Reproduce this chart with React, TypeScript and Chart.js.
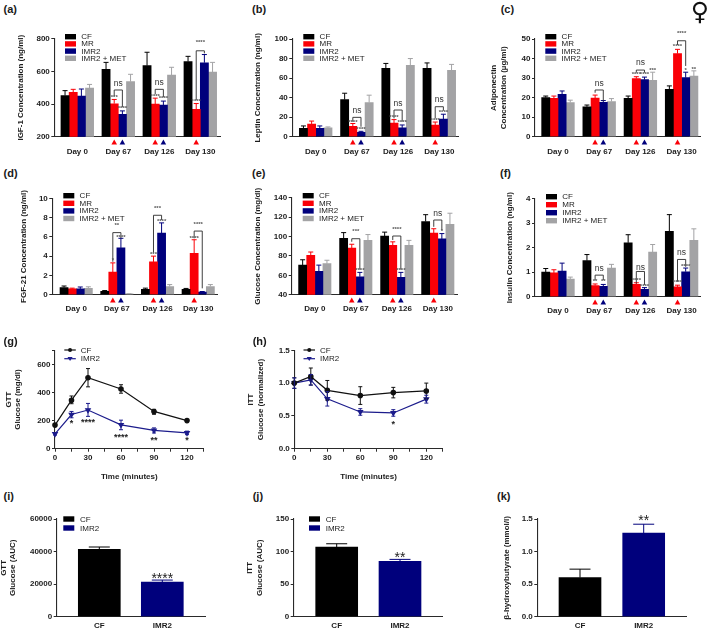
import React, { useEffect, useRef } from "react";
import { Chart, registerables } from "chart.js";

Chart.register(...registerables);

const FONT = "'Liberation Sans', Arial, sans-serif";
const INK = "#1c1c1c";
const BLACK = "#000000";
const RED = "#fa0007";
const NAVY = "#00007c";
const GREY = "#a3a3a5";
const LINE_NAVY = "#1c1c8c";

const dayLabels = ["Day 0", "Day 67", "Day 126", "Day 130"];
const seriesNames = ["CF", "MR", "IMR2", "IMR2 + MET"];
const seriesColors = [BLACK, RED, NAVY, GREY];
const pairNames = ["CF", "IMR2"];
const pairColors = [BLACK, NAVY];
const timePoints = [0, 15, 30, 60, 90, 120];

// Each row: CF, MR, IMR2, IMR2 + MET across the four days
const igfValues = [[452, 613, 635, 660], [472, 402, 400, 367], [448, 337, 393, 653], [497, 537, 577, 595]];
const igfTops = [[482, 655, 717, 692], [490, 428, 436, 403], [492, 358, 418, 703], [520, 582, 625, 655]];
const leptinValues = [[8.5, 38, 70, 70], [13, 10.5, 14, 12], [8.5, 4.5, 9, 18], [9, 35, 73, 68]];
const leptinTops = [[11, 44.5, 75, 75.5], [16, 13.5, 17.5, 15], [11, 5.5, 12, 23], [10, 42.5, 80, 74]];
const adipoValues = [[20, 15.3, 19.7, 24.2], [19.7, 19.8, 29.7, 42.5], [21.7, 17.6, 29.2, 30.2], [17.5, 18, 28.8, 31]];
const adipoTops = [[20.8, 16.2, 20.8, 26], [20.8, 21.3, 30.7, 44.7], [23.4, 18.5, 30.5, 33], [18.7, 19.5, 33, 33.7]];
const fgfValues = [[0.75, 0.35, 0.55, 0.55], [0.6, 2.35, 3.4, 4.3], [0.6, 4.85, 6.4, 0.27], [0.65, 0.08, 0.85, 0.85]];
const fgfTops = [[0.9, 0.43, 0.68, 0.65], [0.68, 3.3, 4, 5.7], [0.8, 5.85, 7.45, 0.33], [0.82, 0.1, 1.05, 1.05]];
const glucoseValues = [[70.5, 98, 100.5, 115.5], [80.5, 88, 91, 103.5], [64, 58.5, 58, 97.5], [72, 96, 91, 112.5]];
const glucoseTops = [[76, 104, 104.5, 122.5], [84, 92, 94.5, 108], [70.5, 63, 63, 103], [75.5, 102, 96, 124]];
const insulinValues = [[1, 1.47, 2.2, 2.67], [0.97, 0.45, 0.5, 0.4], [1.05, 0.42, 0.3, 1.02], [0.72, 1.17, 1.82, 2.3]];
const insulinTops = [[1.15, 1.72, 2.53, 3.35], [1.1, 0.52, 0.57, 0.47], [1.37, 0.5, 0.37, 1.17], [0.8, 1.32, 2.13, 2.77]];

// Comparison brackets: day, from series, to series, top, left foot, right foot, label, label height
const igfBrackets = [[1, 1, 2, 486, 448, 380, "ns", 526], [2, 1, 2, 490, 461, 441, "ns", 530], [3, 1, 2, 726, 424, 710, "****", 775]];
const leptinBrackets = [[1, 1, 2, 19.8, 15.4, 10.2, "ns", 26.3], [2, 1, 2, 27.3, 18.8, 15.4, "ns", 33.8], [3, 1, 2, 30.7, 18.8, 26.6, "ns", 38.2]];
const adipoBrackets = [[1, 1, 2, 23.9, 22.5, 18.3, "ns", 27.3], [2, 1, 2, 34.1, 32.8, 32.8, "ns", 37.9], [3, 1, 2, 49.1, 46.9, 36.2, "****", 52.9]];
const fgfBrackets = [[1, 1, 2, 6.44, 3.42, 5.85, "**", 7.23], [2, 1, 2, 8.24, 4.36, 7.75, "***", 8.96], [3, 1, 2, 6.6, 5.85, 0.66, "****", 7.3]];
const glucoseBrackets = [[1, 1, 2, 97.7, 94.6, 66, "***", 105.3], [2, 1, 2, 100.5, 96.4, 66, "****", 107.4], [3, 1, 2, 117, 110, 106.7, "ns", 123.9]];
const insulinBrackets = [[1, 1, 2, 0.88, 0.68, 0.68, "ns", 1.14], [2, 1, 2, 1.03, 0.54, 0.48, "ns", 1.2], [3, 1, 2, 1.52, 0.61, 1.22, "ns", 1.8]];

// Significance marks: day, series, height, text
const igfStars = [[1, 1, 439, "***"], [1, 2, 371, "****"], [2, 1, 445, "****"], [2, 2, 433, "****"], [3, 1, 418, "****"]];
const leptinStars = [[1, 1, 14.3, "****"], [1, 2, 7.8, "****"], [2, 1, 19.8, "****"], [2, 2, 14.3, "****"], [3, 1, 17, "****"], [3, 2, 24.9, "****"]];
const adipoStars = [[2, 1, 31.7, "****"], [2, 2, 31.7, "****"], [2, 3, 33.8, "***"], [3, 1, 46, "****"], [3, 2, 34.1, "*"], [3, 3, 34.6, "**"]];
const fgfStars = [[1, 1, 3.53, "*"], [1, 2, 5.95, "****"], [2, 1, 4.22, "***"], [2, 2, 7.65, "****"], [3, 1, 5.85, "****"]];
const glucoseStars = [[1, 2, 64.8, "****"], [2, 2, 64.8, "****"], [3, 2, 105.6, "*"]];
const insulinStars = [[1, 1, 0.61, "**"], [1, 2, 0.61, "**"], [2, 1, 0.68, "****"], [2, 2, 0.41, "****"], [3, 1, 0.57, "****"], [3, 2, 1.25, "****"]];

// Triangles below the axis: day, series
const triangleMarks = [[1, 1], [1, 2], [2, 1], [2, 2], [3, 1]];

const gttCF = [168, 345, 505, 425, 265, 200];
const gttCFLow = [158, 320, 440, 395, 245, 192];
const gttCFHigh = [178, 375, 570, 455, 280, 208];
const gttIMR = [105, 243, 275, 170, 130, 112];
const gttIMRLow = [97, 220, 230, 135, 112, 100];
const gttIMRHigh = [113, 265, 322, 203, 148, 125];
const gttStars = [[1, 1, 178, "*"], [2, 1, 183, "****"], [3, 1, 83, "****"], [4, 1, 59, "**"], [5, 1, 55, "*"]];

const ittCF = [1.0, 1.1, 0.89, 0.81, 0.855, 0.88];
const ittCFLow = [0.92, 0.97, 0.74, 0.675, 0.775, 0.76];
const ittCFHigh = [1.08, 1.23, 1.04, 0.945, 0.935, 1.0];
const ittIMR = [1.0, 1.05, 0.76, 0.56, 0.545, 0.755];
const ittIMRLow = [0.92, 0.97, 0.65, 0.51, 0.495, 0.695];
const ittIMRHigh = [1.08, 1.13, 0.87, 0.61, 0.595, 0.815];
const ittStars = [[4, 1, 0.37, "*"]];

const gttAuc = [41300, 21200];
const gttAucTop = [42800, 22500];
const ittAuc = [107, 85];
const ittAucTop = [112, 88];
const bhbValues = [0.6, 1.285];
const bhbTops = [0.73, 1.42];

type Rect = { x: number; y: number; w: number; h: number };
type Plot = { left: number; right: number; top: number; bottom: number };

function marksPlugin(cfg: any) {
  return {
    id: "marks",
    afterDatasetsDraw(chart: any) {
      const ctx = chart.ctx;
      const yS = chart.scales.y;
      const area = chart.chartArea;
      const at = (series: number, idx: number) => chart.getDatasetMeta(series).data[idx];
      ctx.save();

      // error bars
      (cfg.errors || []).forEach((e: any, s: number) => {
        ctx.strokeStyle = e.color;
        ctx.lineWidth = 1;
        e.high.forEach((hi: number, i: number) => {
          const el = at(s, i);
          if (!el) return;
          const x = el.x;
          const top = yS.getPixelForValue(hi);
          const low = e.low ? yS.getPixelForValue(e.low[i]) : el.y;
          const cap = cfg.capWidth / 2;
          ctx.beginPath();
          ctx.moveTo(x, low);
          ctx.lineTo(x, top);
          ctx.moveTo(x - cap, top);
          ctx.lineTo(x + cap, top);
          if (e.low) {
            ctx.moveTo(x - cap, low);
            ctx.lineTo(x + cap, low);
          }
          ctx.stroke();
        });
      });

      // brackets
      ctx.textAlign = "center";
      ctx.textBaseline = "middle";
      (cfg.brackets || []).forEach((b: any) => {
        const [g, a, c, top, fa, fc, label, lv] = b;
        const xa = at(a, g).x;
        const xc = at(c, g).x;
        ctx.strokeStyle = "#2a2a2a";
        ctx.lineWidth = 0.9;
        ctx.beginPath();
        ctx.moveTo(xa, yS.getPixelForValue(fa));
        ctx.lineTo(xa, yS.getPixelForValue(top));
        ctx.lineTo(xc, yS.getPixelForValue(top));
        ctx.lineTo(xc, yS.getPixelForValue(fc));
        ctx.stroke();
        const isNs = label === "ns";
        ctx.font = isNs ? `8.5px ${FONT}` : `bold 6px ${FONT}`;
        ctx.fillStyle = isNs ? "#333" : "#555";
        ctx.fillText(label, (xa + xc) / 2, yS.getPixelForValue(lv));
      });

      // significance stars
      ctx.font = cfg.starFont;
      ctx.fillStyle = cfg.starColor;
      (cfg.stars || []).forEach((st: any) => {
        const [g, s, v, text] = st;
        ctx.fillText(text, at(s, g).x, yS.getPixelForValue(v));
      });

      // triangles below the axis
      (cfg.triangles || []).forEach((t: any) => {
        const [g, s] = t;
        const x = at(s, g).x;
        ctx.fillStyle = seriesColors[s];
        ctx.beginPath();
        ctx.moveTo(x, area.bottom + 2.8);
        ctx.lineTo(x + 2.8, area.bottom + 7.8);
        ctx.lineTo(x - 2.8, area.bottom + 7.8);
        ctx.closePath();
        ctx.fill();
      });

      // legend
      if (cfg.legend) {
        const { x, y, textX, step, kind } = cfg.legend;
        const left = x - chart.canvas.offsetLeft;
        const tx = textX - chart.canvas.offsetLeft;
        ctx.textAlign = "left";
        ctx.textBaseline = "middle";
        ctx.font = `8px ${FONT}`;
        chart.data.datasets.forEach((d: any, i: number) => {
          const ly = y + i * step - chart.canvas.offsetTop;
          if (kind === "line") {
            ctx.strokeStyle = d.borderColor;
            ctx.lineWidth = 1.2;
            ctx.beginPath();
            ctx.moveTo(left, ly);
            ctx.lineTo(left + 11.5, ly);
            ctx.stroke();
            ctx.fillStyle = d.borderColor;
            ctx.beginPath();
            if (i === 0) {
              ctx.arc(left + 5.75, ly, 2, 0, Math.PI * 2);
            } else {
              ctx.moveTo(left + 3.2, ly - 1.8);
              ctx.lineTo(left + 8.3, ly - 1.8);
              ctx.lineTo(left + 5.75, ly + 2.2);
              ctx.closePath();
            }
            ctx.fill();
          } else {
            ctx.fillStyle = d.backgroundColor;
            ctx.fillRect(left, ly - 2.7, 11, 5.4);
          }
          ctx.fillStyle = "#222";
          ctx.fillText(d.label, tx, ly + 0.3);
        });
      }
      ctx.restore();
    },
  };
}

function axisBase(rect: Rect, plot: Plot) {
  return {
    afterFitY: (s: any) => { s.width = plot.left - rect.x; },
    afterFitX: (s: any) => { s.height = rect.y + rect.h - plot.bottom; },
    padding: { left: 0, top: plot.top - rect.y, right: rect.x + rect.w - plot.right, bottom: 0 },
  };
}

const tickFont = { family: FONT, size: 8, weight: "bold" as const };
const border = { display: true, color: "#2a2a2a", width: 1.1 };

function yAxis(rect: Rect, plot: Plot, o: any) {
  const lh = 9.6;
  return {
    type: "linear",
    min: o.min,
    max: o.max,
    afterFit: axisBase(rect, plot).afterFitY,
    border,
    grid: { drawOnChartArea: false, drawTicks: true, tickLength: 3, tickColor: "#2a2a2a", tickWidth: 1 },
    ticks: {
      stepSize: o.step,
      padding: 1.5,
      color: INK,
      font: tickFont,
      callback: (v: number) => (v === o.max && o.hideMax ? "" : o.dec ? v.toFixed(o.dec) : String(v)),
    },
    title: {
      display: true,
      text: o.title,
      color: INK,
      font: { family: FONT, size: 8, weight: "bold" as const, lineHeight: 1.2 },
      padding: { top: o.titleX - rect.x - lh / 2, bottom: 0 },
    },
  };
}

function Panel({ rect, plot, config }: { rect: Rect; plot: Plot; config: any }) {
  const ref = useRef<HTMLCanvasElement>(null);
  useEffect(() => {
    const chart = new Chart(ref.current as HTMLCanvasElement, config);
    return () => chart.destroy();
  }, []);
  return (
    <canvas
      ref={ref}
      width={rect.w}
      height={rect.h}
      style={{ position: "absolute", left: rect.x, top: rect.y, width: rect.w, height: rect.h }}
    />
  );
}

function groupedPanel(p: any) {
  const { rect, plot, values, tops, c0, period, barW } = p;
  const datasets = seriesNames.map((name, s) => ({
    type: "bar",
    label: name,
    data: values[s].map((y: number, x: number) => ({ x, y })),
    backgroundColor: seriesColors[s],
    barThickness: barW,
  }));
  return {
    rect,
    plot,
    config: {
      type: "bar",
      data: { datasets },
      plugins: [
        marksPlugin({
          errors: tops.map((high: number[], s: number) => ({ color: seriesColors[s], high })),
          brackets: p.brackets,
          stars: p.stars,
          starFont: `bold 6px ${FONT}`,
          starColor: "#555",
          capWidth: 5,
          triangles: triangleMarks,
          legend: { x: p.legendX, y: p.legendY, textX: p.legendX + 16.3, step: p.legendStep, kind: "bar" },
        }),
      ],
      options: {
        responsive: false,
        animation: false,
        layout: { autoPadding: false, padding: axisBase(rect, plot).padding },
        plugins: { legend: { display: false }, tooltip: { enabled: false } },
        scales: {
          x: {
            type: "linear",
            offset: false,
            min: (plot.left - c0) / period,
            max: (plot.right - c0) / period,
            afterBuildTicks: (s: any) => { s.ticks = dayLabels.map((_, value) => ({ value })); },
            afterFit: axisBase(rect, plot).afterFitX,
            border,
            grid: { display: false, drawTicks: false, offset: false },
            ticks: {
              stepSize: 1,
              autoSkip: false,
              maxRotation: 0,
              padding: p.labelPad,
              color: INK,
              font: tickFont,
              callback: (v: number) => dayLabels[v] ?? "",
            },
          },
          y: yAxis(rect, plot, p.y),
        },
      },
    },
  };
}

function linePanel(p: any) {
  const { rect, plot } = p;
  const mk = (label: string, vals: number[], color: string, style: string, rotation: number, radius: number) => ({
    type: "line",
    label,
    data: vals.map((y, i) => ({ x: timePoints[i], y })),
    borderColor: color,
    backgroundColor: color,
    borderWidth: 1.2,
    tension: 0,
    clip: false,
    pointStyle: style,
    pointRotation: rotation,
    pointRadius: radius,
  });
  return {
    rect,
    plot,
    config: {
      type: "line",
      data: {
        datasets: [
          mk(pairNames[0], p.cf, "#111111", "circle", 0, 2.2),
          mk(pairNames[1], p.imr, LINE_NAVY, "triangle", 180, 2.6),
        ],
      },
      plugins: [
        marksPlugin({
          errors: [
            { color: "#111111", high: p.cfHigh, low: p.cfLow },
            { color: LINE_NAVY, high: p.imrHigh, low: p.imrLow },
          ],
          stars: p.stars,
          starFont: `bold 9px ${FONT}`,
          starColor: "#222",
          capWidth: 4,
          legend: { x: p.legendX, y: p.legendY, textX: p.legendX + 16.5, step: 8.7, kind: "line" },
        }),
      ],
      options: {
        responsive: false,
        animation: false,
        layout: { autoPadding: false, padding: axisBase(rect, plot).padding },
        plugins: { legend: { display: false }, tooltip: { enabled: false } },
        scales: {
          x: {
            type: "linear",
            min: 0,
            max: 135,
            afterFit: axisBase(rect, plot).afterFitX,
            border,
            grid: { drawOnChartArea: false, drawTicks: true, tickLength: 3, tickColor: "#2a2a2a" },
            ticks: {
              stepSize: 15,
              autoSkip: false,
              maxRotation: 0,
              padding: 1.5,
              color: INK,
              font: tickFont,
              callback: (v: number) => (v % 30 === 0 ? String(v) : ""),
            },
            title: {
              display: true,
              text: "Time (minutes)",
              color: INK,
              font: { family: FONT, size: 8, weight: "bold" as const, lineHeight: 1.2 },
              padding: { top: 0, bottom: rect.y + rect.h - p.xTitleY - 4.8 },
            },
          },
          y: yAxis(rect, plot, p.y),
        },
      },
    },
  };
}

function pairPanel(p: any) {
  const { rect, plot, values, tops, c0, period } = p;
  const datasets = pairNames.map((name, s) => ({
    type: "bar",
    label: name,
    data: [{ x: s, y: values[s] }],
    backgroundColor: pairColors[s],
    grouped: false,
    barThickness: 42,
  }));
  return {
    rect,
    plot,
    config: {
      type: "bar",
      data: { datasets },
      plugins: [
        marksPlugin({
          errors: tops.map((t: number, s: number) => ({ color: pairColors[s], high: [t] })),
          stars: p.stars,
          starFont: `14px ${FONT}`,
          starColor: "#222",
          capWidth: 21,
          legend: p.legendX ? { x: p.legendX, y: p.legendY, textX: p.legendX + 16.7, step: 9, kind: "bar" } : null,
        }),
      ],
      options: {
        responsive: false,
        animation: false,
        layout: { autoPadding: false, padding: axisBase(rect, plot).padding },
        plugins: { legend: { display: false }, tooltip: { enabled: false } },
        scales: {
          x: {
            type: "linear",
            offset: false,
            min: (plot.left - c0) / period,
            max: (plot.right - c0) / period,
            afterBuildTicks: (s: any) => { s.ticks = pairNames.map((_, value) => ({ value })); },
            afterFit: axisBase(rect, plot).afterFitX,
            border,
            grid: { display: false, drawTicks: false, offset: false },
            ticks: {
              stepSize: 1,
              autoSkip: false,
              maxRotation: 0,
              padding: 4.5,
              color: INK,
              font: tickFont,
              callback: (v: number) => pairNames[v] ?? "",
            },
          },
          y: yAxis(rect, plot, p.y),
        },
      },
    },
  };
}

const panels = [
  groupedPanel({
    rect: { x: 0, y: 20, w: 235, h: 142 }, plot: { left: 54.3, right: 220, top: 38.7, bottom: 136.7 },
    values: igfValues, tops: igfTops, brackets: igfBrackets, stars: igfStars,
    c0: 77.3, period: 41, barW: 8.17, labelPad: 10, legendX: 65, legendY: 36.7, legendStep: 7.2,
    y: { min: 200, max: 800, step: 200, title: "IGF-1 Concentration (ng/ml)", titleX: 20.7 },
  }),
  groupedPanel({
    rect: { x: 240, y: 20, w: 228, h: 142 }, plot: { left: 292.3, right: 458, top: 39, bottom: 136.7 },
    values: leptinValues, tops: leptinTops, brackets: leptinBrackets, stars: leptinStars,
    c0: 315.7, period: 41.2, barW: 8.17, labelPad: 10, legendX: 303.3, legendY: 36.7, legendStep: 7.2,
    y: { min: 0, max: 100, step: 20, title: "Leptin Concentration (ng/ml)", titleX: 257.3 },
  }),
  groupedPanel({
    rect: { x: 480, y: 20, w: 229, h: 142 }, plot: { left: 535, right: 700.7, top: 39, bottom: 136.7 },
    values: adipoValues, tops: adipoTops, brackets: adipoBrackets, stars: adipoStars,
    c0: 558, period: 41.2, barW: 8.17, labelPad: 10, legendX: 545.3, legendY: 36.7, legendStep: 7.2,
    y: { min: 0, max: 50, step: 10, title: ["Adiponectin", "Concentration (µg/ml)"], titleX: 494 },
  }),
  groupedPanel({
    rect: { x: 0, y: 180, w: 235, h: 135 }, plot: { left: 52.3, right: 217.7, top: 198.3, bottom: 294.7 },
    values: fgfValues, tops: fgfTops, brackets: fgfBrackets, stars: fgfStars,
    c0: 76.2, period: 40.67, barW: 8.1, labelPad: 9.5, legendX: 63.3, legendY: 195.7, legendStep: 7.6,
    y: { min: 0, max: 10, step: 2, title: "FGF-21 Concentration (ng/ml)", titleX: 24 },
  }),
  groupedPanel({
    rect: { x: 240, y: 180, w: 228, h: 135 }, plot: { left: 291.7, right: 457, top: 197.7, bottom: 294.7 },
    values: glucoseValues, tops: glucoseTops, brackets: glucoseBrackets, stars: glucoseStars,
    c0: 314.8, period: 41, barW: 8.1, labelPad: 9.5, legendX: 302.7, legendY: 195.7, legendStep: 7.6,
    y: { min: 40, max: 140, step: 20, title: "Glucose Concentration (mg/dl)", titleX: 257.3 },
  }),
  groupedPanel({
    rect: { x: 480, y: 180, w: 229, h: 135 }, plot: { left: 535, right: 700, top: 198.7, bottom: 296.7 },
    values: insulinValues, tops: insulinTops, brackets: insulinBrackets, stars: insulinStars,
    c0: 558, period: 41.2, barW: 8.17, labelPad: 9.5, legendX: 546, legendY: 196.7, legendStep: 8,
    y: { min: 0, max: 4, step: 1, title: "Insulin Concentration (ng/ml)", titleX: 509.3 },
  }),
  linePanel({
    rect: { x: 0, y: 335, w: 235, h: 150 }, plot: { left: 55, right: 203.5, top: 350.3, bottom: 448.7 },
    cf: gttCF, cfLow: gttCFLow, cfHigh: gttCFHigh, imr: gttIMR, imrLow: gttIMRLow, imrHigh: gttIMRHigh,
    stars: gttStars, legendX: 64.3, legendY: 350, xTitleY: 476.7,
    y: { min: 0, max: 700, step: 200, hideMax: true, title: ["GTT", "Glucose (mg/dl)"], titleX: 8.3 },
  }),
  linePanel({
    rect: { x: 240, y: 335, w: 228, h: 150 }, plot: { left: 294.3, right: 442.8, top: 350.3, bottom: 448.7 },
    cf: ittCF, cfLow: ittCFLow, cfHigh: ittCFHigh, imr: ittIMR, imrLow: ittIMRLow, imrHigh: ittIMRHigh,
    stars: ittStars, legendX: 303.5, legendY: 350, xTitleY: 476.7,
    y: { min: 0, max: 1.5, step: 0.5, dec: 1, title: ["ITT", "Glucose (normalized)"], titleX: 250.7 },
  }),
  pairPanel({
    rect: { x: 0, y: 505, w: 235, h: 124 }, plot: { left: 56.7, right: 205, top: 519, bottom: 616.7 },
    values: gttAuc, tops: gttAucTop, stars: [[0, 1, 23000, "****"]], c0: 99.3, period: 63,
    legendX: 63.3, legendY: 519,
    y: { min: 0, max: 60000, step: 20000, title: ["GTT", "Glucose (AUC)"], titleX: 3.3 },
  }),
  pairPanel({
    rect: { x: 240, y: 505, w: 228, h: 124 }, plot: { left: 293.7, right: 442, top: 519, bottom: 616.7 },
    values: ittAuc, tops: ittAucTop, stars: [[0, 1, 90, "**"]], c0: 336.7, period: 63.3,
    legendX: 309, legendY: 519,
    y: { min: 0, max: 150, step: 50, title: ["ITT", "Glucose (AUC)"], titleX: 250 },
  }),
  pairPanel({
    rect: { x: 480, y: 505, w: 229, h: 124 }, plot: { left: 537.3, right: 686, top: 519, bottom: 616.7 },
    values: bhbValues, tops: bhbTops, stars: [[0, 1, 1.46, "**"]], c0: 580, period: 63.7,
    y: { min: 0, max: 1.5, step: 0.5, dec: 1, title: "β-hydroxybutyrate (mmol/l)", titleX: 506.7 },
  }),
];

const panelLetters: [string, number, number][] = [
  ["(a)", 3.5, 9], ["(b)", 252, 9], ["(c)", 500.7, 9],
  ["(d)", 3.5, 172.7], ["(e)", 252, 172.7], ["(f)", 500, 172.7],
  ["(g)", 3.5, 340.7], ["(h)", 252.7, 340.7],
  ["(i)", 3.5, 496], ["(j)", 252.7, 496], ["(k)", 497, 496],
];

export default function App() {
  return (
    <div style={{ position: "absolute", left: 0, top: 0, width: 709, height: 629, overflow: "hidden", background: "#fff" }}>
      {panels.map((p, i) => (
        <Panel key={i} rect={p.rect} plot={p.plot} config={p.config} />
      ))}
      {panelLetters.map(([t, x, y]) => (
        <span
          key={t}
          style={{
            position: "absolute", left: x, top: y - 7,
            font: `bold 11px/14px ${FONT}`, color: "#1a1a1a",
          }}
        >
          {t}
        </span>
      ))}
      <span
        style={{
          position: "absolute", left: 688, top: -3, width: 24, textAlign: "center",
          font: "bold 25px/30px 'DejaVu Sans'", color: "#111",
        }}
      >
        ♀
      </span>
    </div>
  );
}
